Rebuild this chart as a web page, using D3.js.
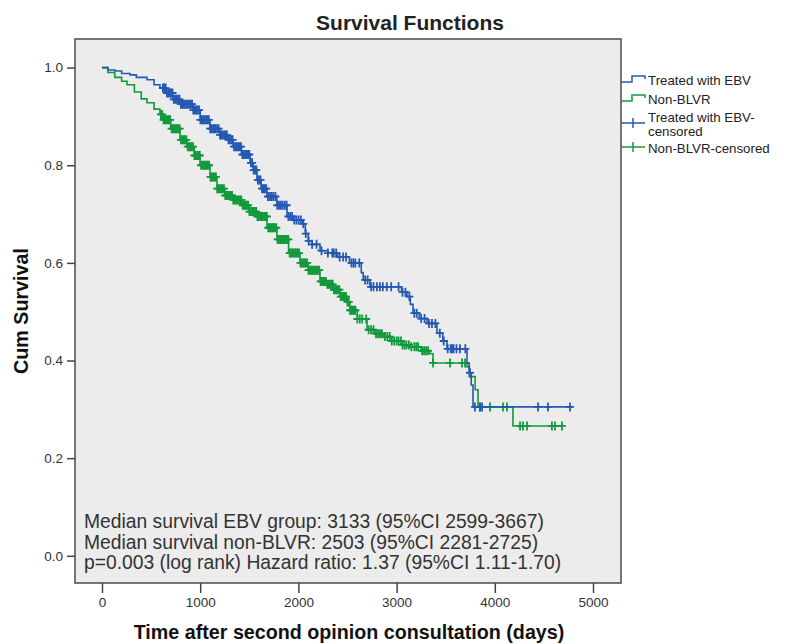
<!DOCTYPE html>
<html>
<head>
<meta charset="utf-8">
<script src="https://cdn.jsdelivr.net/npm/d3@7"></script>
<style>
  body { margin: 0; background: #fff; }
  text { font-family: "Liberation Sans", Arial, sans-serif; }
</style>
</head>
<body>
<svg id="chart" width="787" height="644"></svg>
<script>
// Kaplan-Meier steps: [days, cum survival]
const ebvSteps = [
  [0, 1.000], [60, 0.995], [130, 0.993], [200, 0.988], [285, 0.985], [350, 0.980],
  [458, 0.975], [530, 0.965], [590, 0.958], [650, 0.948], [720, 0.935], [800, 0.925],
  [927, 0.913], [1000, 0.893], [1100, 0.875], [1200, 0.862], [1273, 0.852], [1334, 0.838],
  [1420, 0.822], [1507, 0.805], [1540, 0.790], [1578, 0.770], [1620, 0.752], [1680, 0.736],
  [1780, 0.718], [1884, 0.695], [1950, 0.688], [2040, 0.680], [2070, 0.660], [2100, 0.645],
  [2140, 0.638], [2220, 0.625], [2300, 0.620], [2400, 0.612], [2520, 0.600], [2640, 0.580],
  [2660, 0.565], [2729, 0.551], [3050, 0.540], [3106, 0.531], [3140, 0.515], [3167, 0.497],
  [3230, 0.486], [3310, 0.476], [3411, 0.456], [3470, 0.440], [3513, 0.424], [3717, 0.395],
  [3740, 0.375], [3760, 0.350], [3778, 0.305], [4790, 0.305]
];
const nonBlvrSteps = [
  [0, 1.000], [60, 0.990], [130, 0.980], [200, 0.972], [255, 0.965], [330, 0.950],
  [400, 0.936], [458, 0.928], [530, 0.915], [590, 0.904], [621, 0.893], [700, 0.875],
  [794, 0.852], [866, 0.838], [940, 0.820], [998, 0.800], [1100, 0.776], [1171, 0.752],
  [1250, 0.738], [1334, 0.729], [1420, 0.718], [1500, 0.705], [1578, 0.695], [1680, 0.672],
  [1782, 0.648], [1900, 0.620], [2016, 0.600], [2100, 0.585], [2220, 0.562], [2291, 0.556],
  [2350, 0.545], [2424, 0.531], [2495, 0.520], [2525, 0.503], [2600, 0.485], [2699, 0.463],
  [2780, 0.455], [2862, 0.449], [2950, 0.440], [3050, 0.432], [3136, 0.428], [3250, 0.420],
  [3340, 0.414], [3371, 0.395], [3717, 0.387], [3740, 0.367], [3800, 0.340], [3829, 0.305],
  [4185, 0.266], [4695, 0.266]
];

// censored observations (days)
const ebvCensored = [
  620, 633, 648, 661, 676, 690, 703, 718, 731, 747, 760, 774, 789, 803, 816, 832, 845, 860,
  874, 888, 903, 917, 930, 946, 959, 974, 988, 1002, 1017, 1031, 1044, 1060, 1073, 1088,
  1102, 1116, 1131, 1145, 1158, 1174, 1187, 1202, 1216, 1230, 1245, 1259, 1272, 1288, 1301,
  1316, 1330, 1344, 1359, 1373, 1386, 1402, 1415, 1430, 1444, 1458, 1473, 1487, 1500, 1516,
  1529, 1544, 1558, 1572, 1587, 1601, 1614, 1630, 1643, 1658, 1672, 1690, 1710, 1728, 1745,
  1766, 1785, 1803, 1822, 1840, 1861, 1880, 1898, 1917, 1936, 1958, 1980, 2002, 2025, 2050,
  2075, 2105, 2140, 2185, 2235, 2300, 2345, 2360, 2385, 2420, 2455, 2485, 2540, 2560, 2580,
  2620, 2680, 2705, 2740, 2765, 2800, 2830, 2860, 2900, 2945, 3020, 3060, 3090, 3130, 3180,
  3205, 3250, 3285, 3330, 3360, 3395, 3440, 3480, 3520, 3550, 3565, 3580, 3610, 3645, 3700,
  3747, 3798, 3849, 3870, 4440, 4542, 4766
];
const nonBlvrCensored = [
  600, 613, 627, 640, 654, 668, 681, 695, 709, 722, 736, 750, 763, 777, 791, 804, 818, 832,
  845, 859, 873, 886, 900, 914, 927, 941, 955, 968, 982, 996, 1009, 1023, 1037, 1050, 1064,
  1078, 1091, 1105, 1119, 1132, 1146, 1160, 1173, 1187, 1201, 1214, 1228, 1242, 1255, 1269,
  1283, 1296, 1310, 1324, 1337, 1351, 1365, 1378, 1392, 1406, 1419, 1433, 1447, 1460, 1474,
  1488, 1501, 1515, 1529, 1542, 1556, 1570, 1583, 1597, 1611, 1624, 1638, 1652, 1665, 1679,
  1693, 1706, 1720, 1734, 1747, 1761, 1775, 1788, 1802, 1816, 1829, 1843, 1857, 1870, 1884,
  1898, 1911, 1925, 1939, 1952, 1966, 1980, 1993, 2007, 2021, 2034, 2048, 2062, 2075, 2089,
  2103, 2116, 2130, 2144, 2157, 2171, 2185, 2198, 2212, 2226, 2239, 2253, 2267, 2280, 2294,
  2308, 2321, 2335, 2349, 2362, 2376, 2390, 2403, 2417, 2431, 2444, 2458, 2472, 2485, 2499,
  2513, 2526, 2540, 2554, 2567, 2581, 2600, 2625, 2650, 2690, 2715, 2740, 2765, 2790, 2810,
  2830, 2850, 2880, 2905, 2930, 2950, 2975, 3000, 3020, 3045, 3060, 3080, 3100, 3125, 3150,
  3180, 3200, 3220, 3260, 3280, 3300, 3320, 3371, 3544, 3666, 3697, 3849, 3951, 4084, 4124,
  4257, 4287, 4328, 4582, 4613, 4684
];

const xTicks = [0, 1000, 2000, 3000, 4000, 5000];
const yTicks = [0, 0.2, 0.4, 0.6, 0.8, 1.0];
const legendLabels = ["Treated with EBV", "Non-BLVR", "Treated with EBV-\ncensored", "Non-BLVR-censored"];
const noteLines = [
  "Median survival EBV group: 3133 (95%CI 2599-3667)",
  "Median survival non-BLVR: 2503 (95%CI 2281-2725)",
  "p=0.003 (log rank) Hazard ratio: 1.37 (95%CI 1.11-1.70)"
];

const blue = "#2458b3", green = "#12993c";
const frame = { left: 75, top: 39, right: 621, bottom: 583 };

const svg = d3.select("#chart");
const x = d3.scaleLinear().domain([0, 5000]).range([102, 593]);
const y = d3.scaleLinear().domain([0, 1]).range([555.8, 67.6]);

svg.append("text")
  .attr("x", 410).attr("y", 30)
  .attr("text-anchor", "middle")
  .attr("font-size", 21).attr("font-weight", "bold")
  .attr("fill", "#222")
  .text("Survival Functions");

svg.append("rect")
  .attr("x", frame.left).attr("y", frame.top)
  .attr("width", frame.right - frame.left).attr("height", frame.bottom - frame.top)
  .attr("fill", "#ececec")
  .attr("stroke", "#555").attr("stroke-width", 1.6);

// axes
const xAxis = svg.append("g")
  .attr("transform", `translate(0,${frame.bottom})`)
  .call(d3.axisBottom(x).tickValues(xTicks).tickSize(10).tickPadding(4).tickFormat(d3.format("d")));
const yAxis = svg.append("g")
  .attr("transform", `translate(${frame.left},0)`)
  .call(d3.axisLeft(y).tickValues(yTicks).tickSize(8).tickPadding(4).tickFormat(d3.format(".1f")));
[xAxis, yAxis].forEach(a => {
  a.select(".domain").remove();
  a.selectAll("line").attr("stroke", "#444").attr("stroke-width", 1.5);
  a.selectAll("text").attr("font-size", 13.5).attr("fill", "#333")
    .attr("font-family", "'Liberation Sans', Arial, sans-serif");
});

svg.append("text")
  .attr("x", 349).attr("y", 639)
  .attr("text-anchor", "middle")
  .attr("font-size", 19.7).attr("font-weight", "bold").attr("fill", "#111")
  .text("Time after second opinion consultation (days)");

svg.append("text")
  .attr("transform", "translate(28,311) rotate(-90)")
  .attr("text-anchor", "middle")
  .attr("font-size", 19.7).attr("font-weight", "bold").attr("fill", "#111")
  .text("Cum Survival");

// curves
const line = d3.line().x(d => x(d[0])).y(d => y(d[1])).curve(d3.curveStepAfter);
const survAt = (steps, t) => {
  let s = steps[0][1];
  for (const [tt, v] of steps) { if (tt <= t) s = v; else break; }
  return s;
};

const series = [
  { steps: nonBlvrSteps, cens: nonBlvrCensored, color: green },
  { steps: ebvSteps, cens: ebvCensored, color: blue }
];
series.forEach(s => {
  svg.append("path")
    .attr("d", line(s.steps))
    .attr("fill", "none").attr("stroke", s.color).attr("stroke-width", 1.6);
  svg.append("g").selectAll("path")
    .data(s.cens)
    .join("path")
    .attr("d", t => {
      const cx = x(t), cy = y(survAt(s.steps, t));
      return `M${cx - 4},${cy}H${cx + 4}M${cx},${cy - 4.5}V${cy + 4.5}`;
    })
    .attr("stroke", s.color).attr("stroke-width", 1.8).attr("fill", "none");
});

// notes
svg.append("g").selectAll("text")
  .data(noteLines)
  .join("text")
  .attr("x", 84).attr("y", (d, i) => 528 + i * 20.5)
  .attr("font-size", 19.3).attr("fill", "#333")
  .text(d => d);

// legend
const lg = svg.append("g").attr("transform", "translate(621,0)");
const stepSym = (cy) => `M0,${cy + 3}H11V${cy - 3}H24V${cy}`;
lg.append("path").attr("d", stepSym(79)).attr("stroke", blue).attr("fill", "none").attr("stroke-width", 1.5);
lg.append("path").attr("d", stepSym(98)).attr("stroke", green).attr("fill", "none").attr("stroke-width", 1.5);
lg.append("path").attr("d", "M0,123H24M12,118V128").attr("stroke", blue).attr("fill", "none").attr("stroke-width", 1.5);
lg.append("path").attr("d", "M0,147H24M12,142V152").attr("stroke", green).attr("fill", "none").attr("stroke-width", 1.5);

const legendY = [[80], [99], [117, 131], [148]];
legendLabels.forEach((lab, i) => {
  lab.split("\n").forEach((part, j) => {
    lg.append("text")
      .attr("x", 27).attr("y", legendY[i][j] + 4.5)
      .attr("font-size", 13.3).attr("fill", "#222")
      .text(part);
  });
});
</script>
</body>
</html>
